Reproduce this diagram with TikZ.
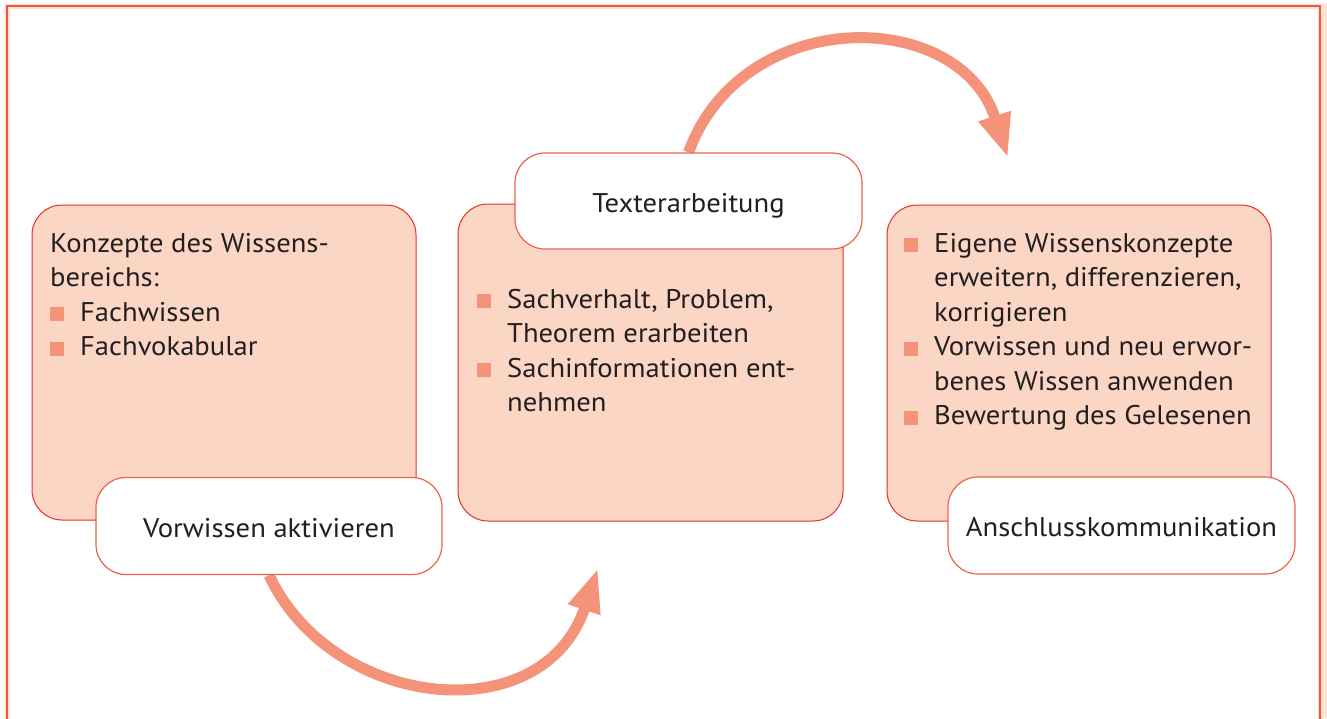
\documentclass[tikz,border=0pt]{standalone}
\usepackage{fontspec}
\setmainfont[FakeStretch=1.06]{PT Sans}
\usetikzlibrary{arrows.meta,backgrounds}
\definecolor{boxfill}{HTML}{FBD6C4}
\definecolor{boxline}{HTML}{E42E2B}
\definecolor{labelline}{HTML}{F0614A}
\definecolor{arrowc}{HTML}{F5937A}
\definecolor{bulletc}{HTML}{F5937A}
\definecolor{textc}{HTML}{231F20}
\definecolor{framec}{HTML}{F2553B}
\definecolor{glowc}{HTML}{FDE3D6}
\newcommand{\bul}{\makebox[30pt][l]{\textcolor{bulletc}{\rule{14pt}{14pt}}}}
\newcommand{\ind}{\hspace*{30pt}}
\newcommand{\txtfont}{\fontsize{27}{34.5}\selectfont}
\tikzset{
  contentbox/.style={draw=boxline, line width=1pt, fill=boxfill, rounded corners=30pt, inner sep=0pt},
  labelbox/.style={draw=labelline, line width=1.2pt, fill=white, rounded corners=30pt, inner sep=0pt,
    font=\txtfont, text=textc, text height=22pt, text depth=0pt},
  boxtext/.style={anchor=base west, inner sep=0pt, text=textc},
  bigarrow/.style={draw=arrowc, line width=11pt, -{Triangle[length=44pt,width=31pt]}}
}
\begin{document}
\begin{tikzpicture}[x=1pt,y=-1pt]
\useasboundingbox (0,0) rectangle (1327,718);
% boxes
\node[contentbox, minimum width=384pt, minimum height=315pt] (b1) at (224,362.5) {};
\node[labelbox, minimum width=346pt, minimum height=97pt] (v) at (269,526) {Vorwissen aktivieren};
\node[contentbox, minimum width=385pt, minimum height=317pt] (b2) at (650.5,362.5) {};
\node[labelbox, minimum width=347pt, minimum height=96pt] (t) at (688.5,201) {Texterarbeitung};
\node[contentbox, minimum width=384pt, minimum height=316pt] (b3) at (1079,363) {};
\node[labelbox, minimum width=347pt, minimum height=97pt] (a) at (1121.5,525.5) {Anschlusskommunikation};
% texts
\node[boxtext] (x1) at (50,252) {\parbox[t]{380pt}{\txtfont\raggedright
Konzepte des Wissens-\\
bereichs:\\
\bul Fachwissen\\
\bul Fachvokabular}};
\node[boxtext] (x2) at (477,308) {\parbox[t]{380pt}{\txtfont\raggedright
\bul Sachverhalt, Problem,\\
\ind Theorem erarbeiten\\
\bul Sachinformationen ent-\\
\ind nehmen}};
\node[boxtext] (x3) at (904,252) {\parbox[t]{400pt}{\txtfont\raggedright
\bul Eigene Wissenskonzepte\\
\ind erweitern, differenzieren,\\
\ind korrigieren\\
\bul Vorwissen und neu erwor-\\
\ind benes Wissen anwenden\\
\bul Bewertung des Gelesenen}};
\coordinate (tip1) at (598,568);
\coordinate (tip2) at (1008,158);
\begin{pgfonlayer}{background}
  % frame
  \fill[glowc] (1321,3) rectangle (1327,718);
  \draw[glowc, line width=5pt] (7,730) -- (7,6) -- (1320,6) -- (1320,730);
  \draw[framec, line width=2pt] (7,730) -- (7,6) -- (1320,6) -- (1320,730);
  % arrows
  \draw[bigarrow] (v.south) .. controls (332,710) and (543,733) .. (tip1);
  \draw[bigarrow] (t.north) .. controls (742,5) and (959,6) .. (tip2);
\end{pgfonlayer}
\end{tikzpicture}
\end{document}
